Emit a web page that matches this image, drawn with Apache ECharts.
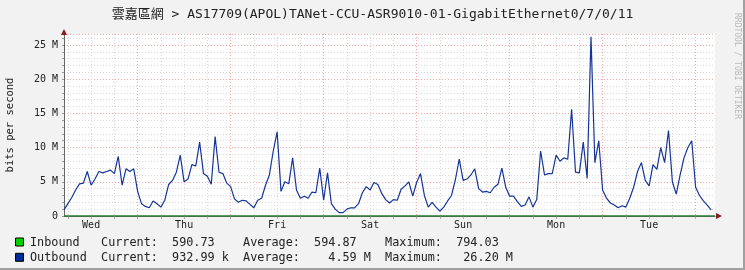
<!DOCTYPE html>
<html><head><meta charset="utf-8">
<script src="https://cdn.jsdelivr.net/npm/echarts@6/dist/echarts.min.js"></script>
<style>
html,body{margin:0;padding:0;background:#f2f2f2;}
#c{width:745px;height:270px;}
</style></head><body><div id="c"></div>
<script>
// ---- data ----
const titleText = '雲嘉區網 > AS17709(APOL)TANet-CCU-ASR9010-01-GigabitEthernet0/7/0/11';
const yAxisName = 'bits per second';
const watermark = 'RRDTOOL / TOBI OETIKER';
const startHour = 5;   // hours after Wed 00:00 at the left edge
const endHour = 173;
const dayNames = ['Wed', 'Thu', 'Fri', 'Sat', 'Sun', 'Mon', 'Tue', 'Wed'];
const yMax = 26.6;     // M bits/s
// hourly outbound (Mbit/s), from hour 5 to hour 172
const outbound = [
  0.9, 1.8, 2.7, 3.8, 4.7, 4.8, 6.5, 4.5, 5.4, 6.5, 6.3, 6.5, 6.7, 6.2, 8.7, 4.5, 6.9, 6.5, 6.9, 3.6,
  1.8, 1.4, 1.2, 2.2, 1.8, 1.3, 2.3, 4.6, 5.2, 6.4, 8.9, 5.0, 5.4, 7.5, 7.3, 10.8, 6.2, 5.8, 4.65, 11.6,
  6.4, 6.2, 4.8, 4.3, 2.5, 2.0, 2.3, 2.2, 1.7, 1.2, 2.3, 2.6, 4.5, 6.0, 9.5, 12.3, 3.6, 5.0, 4.7, 8.5,
  3.8, 2.6, 2.9, 2.6, 3.5, 3.4, 7.0, 2.3, 6.3, 1.8, 1.0, 0.5, 0.5, 1.0, 1.2, 1.2, 1.8, 3.4, 4.3, 3.8,
  4.9, 4.6, 3.3, 2.4, 1.9, 2.4, 2.3, 3.9, 4.4, 5.0, 2.9, 4.9, 6.2, 3.0, 1.3, 2.0, 1.3, 0.7, 1.3, 2.2,
  3.0, 5.3, 8.3, 5.2, 5.4, 6.0, 6.9, 4.0, 3.5, 3.6, 3.4, 4.2, 4.65, 7.0, 4.2, 2.9, 2.9, 2.1, 1.4, 1.6,
  2.8, 1.3, 2.4, 9.5, 6.0, 6.2, 6.2, 8.9, 8.0, 8.5, 8.3, 15.6, 6.4, 6.3, 10.8, 5.5, 26.2, 7.8, 11.0, 3.8,
  2.6, 1.9, 1.6, 1.2, 1.5, 1.3, 2.6, 4.2, 6.5, 7.8, 5.2, 4.4, 7.5, 6.8, 10.0, 7.8, 12.5, 5.0, 3.2, 6.0,
  8.5, 10.0, 11.0, 4.2, 3.0, 2.2, 1.6, 0.9
];
// inbound (Mbit/s), one value every 6 hours from hour 5
const inbound = [
  0.00059, 0.00060, 0.00058, 0.00061, 0.00059, 0.00062, 0.00058, 0.00060, 0.00079, 0.00059,
  0.00057, 0.00060, 0.00061, 0.00058, 0.00059, 0.00060, 0.00062, 0.00059, 0.00058, 0.00060,
  0.00061, 0.00059, 0.00058, 0.00060, 0.00059, 0.00061, 0.00058, 0.00059, 0.00059
];
const legendNames = ['Inbound', 'Outbound'];
const legendColors = ['#00cf00', '#002a97'];
const curVals = [['590.73', ''], ['932.99', 'k']];
const avgVals = [['594.87', ''], ['4.59', 'M']];
const maxVals = [['794.03', ''], ['26.20', 'M']];

// ---- build ----
const hours = [];
for (let h = startHour; h <= endHour; h++) hours.push(String(h));
const mono = "'DejaVu Sans Mono', 'Noto Sans CJK TC', monospace";
const fmt = (p) => (p[0].padStart(8) + ' ' + p[1]);
const legendRows = legendNames.map((n, i) =>
  n.padEnd(10) + 'Current:' + fmt(curVals[i]).padEnd(12) + 'Average:' + fmt(avgVals[i]).padEnd(12) + 'Maximum:' + fmt(maxVals[i]));

const chart = echarts.init(document.getElementById('c'), null, {renderer: 'canvas'});
const gridCol = '#d8d8d8', majorCol = '#f0a8a8';
const graphics = [
  {type: 'text', id: 'title', left: 'center', top: 8, style: {text: titleText, font: '13px ' + mono, fill: '#222'}},
  {type: 'text', id: 'wm', x: 737, y: 66, rotation: -Math.PI / 2,
   style: {text: watermark, font: '8px ' + mono, fill: '#b8b8b8', align: 'center', verticalAlign: 'middle'}},
  {type: 'rect', id: 'edgeR', shape: {x: 743, y: 0, width: 2, height: 270}, style: {fill: '#a0a0a0'}},
  {type: 'rect', id: 'edgeB', shape: {x: 0, y: 268, width: 745, height: 2}, style: {fill: '#a0a0a0'}}
];
legendRows.forEach((r, i) => {
  const yc = 242.5 + i * 15.3;
  graphics.push({type: 'rect', id: 'lb' + i, shape: {x: 15.5, y: yc - 4.5, width: 8, height: 8},
    style: {fill: legendColors[i], stroke: '#000', lineWidth: 1}});
  graphics.push({type: 'text', id: 'lt' + i, x: 30, y: yc,
    style: {text: r, font: '11.8px ' + mono, fill: '#222', verticalAlign: 'middle'}});
});

chart.setOption({
  animation: false,
  backgroundColor: '#f2f2f2',
  grid: {left: 64, right: 30, top: 34, bottom: 54, show: true, backgroundColor: '#fff', borderWidth: 0,
    containLabel: false, outerBoundsMode: 'none'},
  xAxis: [{
    type: 'category', data: hours, boundaryGap: false,
    axisLine: {show: true, lineStyle: {color: '#666', width: 1}},
    axisTick: {show: true, length: 3, interval: (i, v) => (+v) % 6 === 0, lineStyle: {color: '#aaa'}},
    axisLabel: {interval: (i, v) => (+v) % 24 === 12, formatter: (v) => dayNames[Math.floor(+v / 24)],
      fontFamily: mono, fontSize: 10, color: '#222', margin: 4},
    splitLine: {show: true, interval: (i, v) => (+v) % 6 === 0 && (+v) % 24 !== 0,
      lineStyle: {color: gridCol, type: [1, 2], width: 1}}
  }, {
    type: 'category', data: hours, boundaryGap: false, position: 'top',
    axisLine: {show: false}, axisTick: {show: false}, axisLabel: {show: false},
    splitLine: {show: true, interval: (i, v) => (+v) % 24 === 0,
      lineStyle: {color: majorCol, type: [1, 2], width: 1}}
  }],
  yAxis: [{
    type: 'value', min: 0, max: yMax, interval: 1,
    name: yAxisName, nameLocation: 'middle', nameGap: 48, nameRotate: 90,
    nameTextStyle: {fontFamily: mono, fontSize: 10.5, color: '#222'},
    axisLine: {show: true, lineStyle: {color: '#666'}},
    axisTick: {show: true, length: 2, lineStyle: {color: '#999'}},
    axisLabel: {formatter: (v) => (Number.isInteger(v) && v % 5 === 0) ? (v === 0 ? '0' : v + ' M') : '',
      fontFamily: mono, fontSize: 10, color: '#222', margin: 6, showMaxLabel: false},
    splitLine: {show: true, lineStyle: {color: gridCol, type: [1, 2], width: 1}}
  }, {
    type: 'value', min: 0, max: yMax, interval: 5, position: 'right',
    axisLine: {show: false}, axisTick: {show: false}, axisLabel: {show: false},
    splitLine: {show: true, lineStyle: {color: majorCol, type: [1, 2], width: 1}}
  }],
  series: [{
    name: 'Outbound', type: 'line', data: outbound, showSymbol: false, symbol: 'none',
    lineStyle: {color: '#15349a', width: 1.2}, z: 3
  }, {
    name: 'Inbound', type: 'line', data: inbound.map((v, i) => [i * 6, v]), showSymbol: false, symbol: 'none',
    lineStyle: {color: '#2b7a2b', width: 1.5}, z: 4
  }],
  graphic: graphics
});

// axis arrows, placed from the axis scales
const tl = chart.convertToPixel({xAxisIndex: 0, yAxisIndex: 0}, [0, yMax]);
const br = chart.convertToPixel({xAxisIndex: 0, yAxisIndex: 0}, [hours.length - 1, 0]);
chart.setOption({graphic: [
  {type: 'polygon', id: 'ay', shape: {points: [[tl[0], tl[1] - 5], [tl[0] - 3, tl[1] + 1], [tl[0] + 3, tl[1] + 1]]}, style: {fill: '#8b1a1a'}, z: 10},
  {type: 'polygon', id: 'ax', shape: {points: [[br[0] + 7, br[1]], [br[0] + 1, br[1] - 3], [br[0] + 1, br[1] + 3]]}, style: {fill: '#8b1a1a'}, z: 10}
]});
</script></body></html>
